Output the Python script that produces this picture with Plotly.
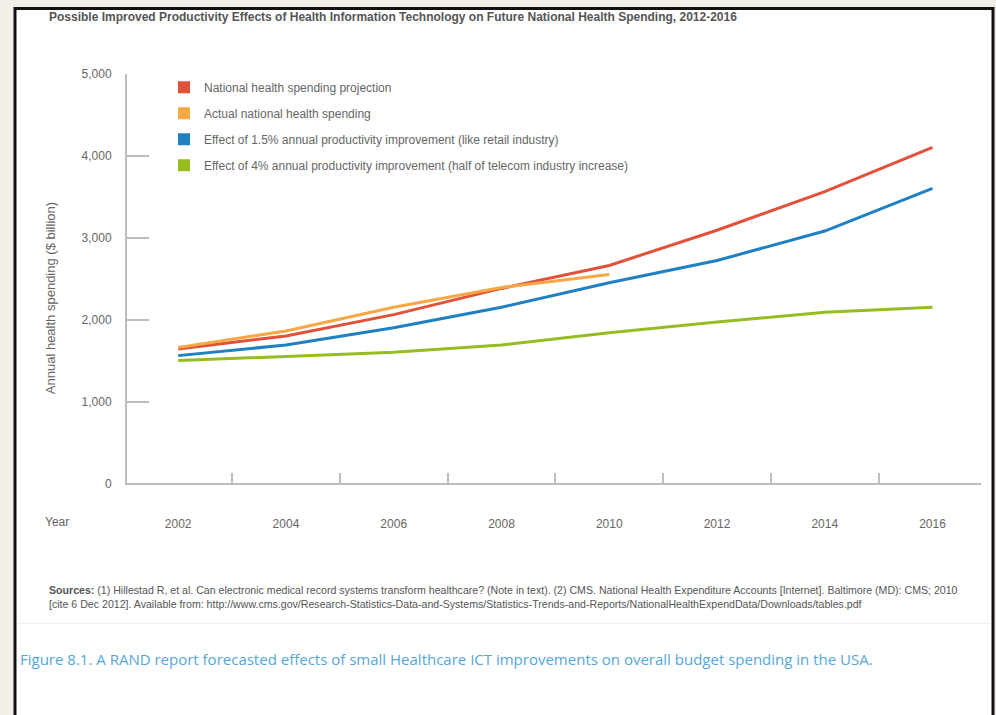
import plotly.graph_objects as go

W, H = 996, 715

years = [2002, 2004, 2006, 2008, 2010, 2012, 2014, 2016]
projection = [1640, 1800, 2060, 2380, 2660, 3090, 3560, 4100]
actual_years = [2002, 2004, 2006, 2008, 2010]
actual = [1660, 1860, 2150, 2390, 2550]
retail = [1560, 1690, 1900, 2150, 2450, 2720, 3080, 3600]
telecom = [1500, 1550, 1600, 1690, 1840, 1970, 2090, 2150]

series_names = [
    "National health spending projection",
    "Actual national health spending",
    "Effect of 1.5% annual productivity improvement (like retail industry)",
    "Effect of 4% annual productivity improvement (half of telecom industry increase)",
]
colors = ["#e2513a", "#f5a845", "#1f80c2", "#95bd22"]
year_ticks = [2002, 2004, 2006, 2008, 2010, 2012, 2014, 2016]
y_ticks = [0, 1000, 2000, 3000, 4000, 5000]

FONT = "Liberation Sans Narrow, Arial Narrow, sans-serif"

fig = go.Figure()
xs = [years, actual_years, years, years]
ys = [projection, actual, retail, telecom]
for i in range(4):
    fig.add_trace(go.Scatter(x=xs[i], y=ys[i], mode="lines",
                             line=dict(color=colors[i], width=3),
                             showlegend=False, hoverinfo="skip"))
for i in range(4):
    fig.add_trace(go.Scatter(x=[None], y=[None], mode="markers",
                             marker=dict(symbol="square", size=12, color=colors[i]),
                             name=series_names[i], legendgroup=str(i),
                             showlegend=True))

px = lambda v: v / W
py = lambda v: 1 - v / H

fig.update_layout(
    width=W, height=H,
    margin=dict(l=0, r=0, t=0, b=0),
    paper_bgcolor="#f1efe7",
    plot_bgcolor="rgba(0,0,0,0)",
    font=dict(family=FONT, color="#666666", size=12),
    showlegend=True,
    legend=dict(x=px(164), y=py(67), xanchor="left", yanchor="top",
                bgcolor="rgba(0,0,0,0)", font=dict(size=12, color="#666666"),
                tracegroupgap=7, itemclick=False),
    xaxis=dict(domain=[px(127), px(981)], range=[2001.05, 2016.9],
               tickvals=year_ticks, ticktext=[str(v) for v in year_ticks],
               ticks="", showgrid=False, zeroline=False,
               showline=True, linecolor="#bdbdbd", linewidth=2,
               ticklabelstandoff=28, tickfont=dict(size=12, color="#666666"),
               minor=dict(tick0=2003, dtick=2, ticks="inside", ticklen=10,
                          tickcolor="#bdbdbd", tickwidth=1.5, showgrid=False)),
    yaxis=dict(domain=[py(486), py(68)], range=[0, 5000],
               tickvals=y_ticks, tickformat=",", ticks="inside", ticklen=22,
               tickcolor="#bdbdbd", tickwidth=1.5, showgrid=False, zeroline=False,
               showline=True, linecolor="#bdbdbd", linewidth=2,
               ticklabelstandoff=11, tickfont=dict(size=12, color="#666666")),
    shapes=[
        dict(type="rect", xref="paper", yref="paper", x0=px(15), x1=px(993),
             y0=-0.05, y1=py(1.5), fillcolor="white", line=dict(color="#111111", width=3),
             layer="below"),
        dict(type="line", xref="paper", yref="paper", x0=px(18), x1=px(990),
             y0=py(629), y1=py(629), line=dict(color="#ececec", width=1), layer="below"),
    ],
    annotations=[
        dict(text="<b>Possible Improved Productivity Effects of Health Information Technology on Future National Health Spending, 2012-2016</b>",
             xref="paper", yref="paper", x=px(47), y=py(10), xanchor="left", yanchor="middle",
             showarrow=False, font=dict(family=FONT, size=12, color="#555555")),
        dict(text="Annual health spending ($ billion)", textangle=-90,
             xref="paper", yref="paper", x=px(50), y=py(297), xanchor="center", yanchor="middle",
             showarrow=False, font=dict(family=FONT, size=13, color="#666666")),
        dict(text="Year", xref="paper", yref="paper", x=px(57), y=py(525),
             xanchor="center", yanchor="middle", showarrow=False,
             font=dict(family=FONT, size=12, color="#666666")),
        dict(text="<b>Sources:</b> (1) Hillestad R, et al. Can electronic medical record systems transform healthcare? (Note in text). (2) CMS. National Health Expenditure Accounts [Internet]. Baltimore (MD): CMS; 2010<br>[cite 6 Dec 2012]. Available from: http://www.cms.gov/Research-Statistics-Data-and-Systems/Statistics-Trends-and-Reports/NationalHealthExpendData/Downloads/tables.pdf",
             xref="paper", yref="paper", x=px(47), y=py(602), xanchor="left", yanchor="middle",
             align="left", showarrow=False,
             font=dict(family=FONT, size=10.6, color="#555555")),
        dict(text="Figure 8.1. A RAND report forecasted effects of small Healthcare ICT improvements on overall budget spending in the USA.",
             xref="paper", yref="paper", x=px(18), y=py(665), xanchor="left", yanchor="middle",
             showarrow=False, font=dict(family="Open Sans, sans-serif", size=15, color="#55a7da")),
    ],
)

fig.write_html("out.html")
